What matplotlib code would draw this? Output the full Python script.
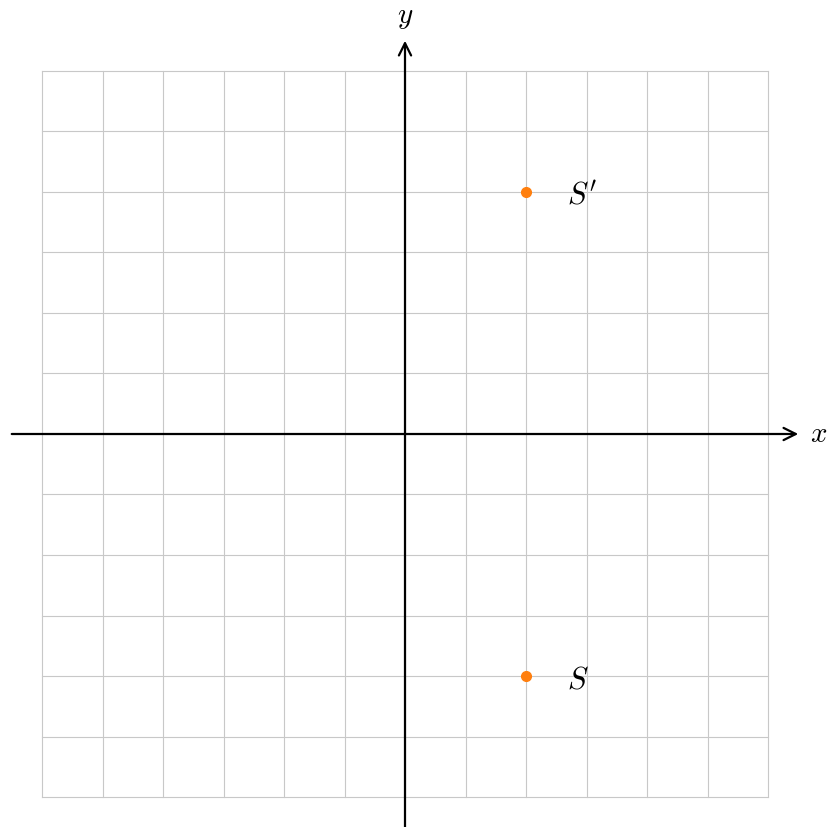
import matplotlib
matplotlib.use('Agg')
import matplotlib.pyplot as plt
import numpy as np

plt.rcParams['mathtext.fontset'] = 'cm'

# grid extent and points
grid_ticks = list(range(-6, 7))
point_names = ["S'", "S"]
point_x = [2, 2]
point_y = [4, -4]

fig = plt.figure(figsize=(8.29, 8.27), dpi=100)
ax = fig.add_axes([0, 0, 1, 1])
ax.set_xlim(-405 / 60.5, (829 - 405) / 60.5)
ax.set_ylim((434 - 827) / 60.5, 434 / 60.5)
ax.axis('off')

# background grid
for t in grid_ticks:
    ax.plot([t, t], [-6, 6], color='#c8c8c8', lw=0.8, zorder=1)
    ax.plot([-6, 6], [t, t], color='#c8c8c8', lw=0.8, zorder=1)

# axes with arrows
arrow = dict(arrowstyle='->', color='black', lw=1.6, mutation_scale=22, shrinkA=0, shrinkB=0)
ax.annotate('', xy=(6.5, 0), xytext=(-6.5, 0), arrowprops=arrow, zorder=3)
ax.annotate('', xy=(0, 6.5), xytext=(0, -6.6), arrowprops=arrow, zorder=3)
ax.text(6.83, 0, r'$x$', fontsize=21, ha='center', va='center')
ax.text(0, 6.89, r'$y$', fontsize=21, ha='center', va='center')

# points
ax.plot(point_x, point_y, 'o', color='#ff7f0e', ms=7, zorder=4)
for name, px, py in zip(point_names, point_x, point_y):
    ax.text(px + 0.68, py - 0.2, '$' + name + '$', fontsize=22, ha='left', va='baseline')

fig.savefig('out.png', dpi=100)
